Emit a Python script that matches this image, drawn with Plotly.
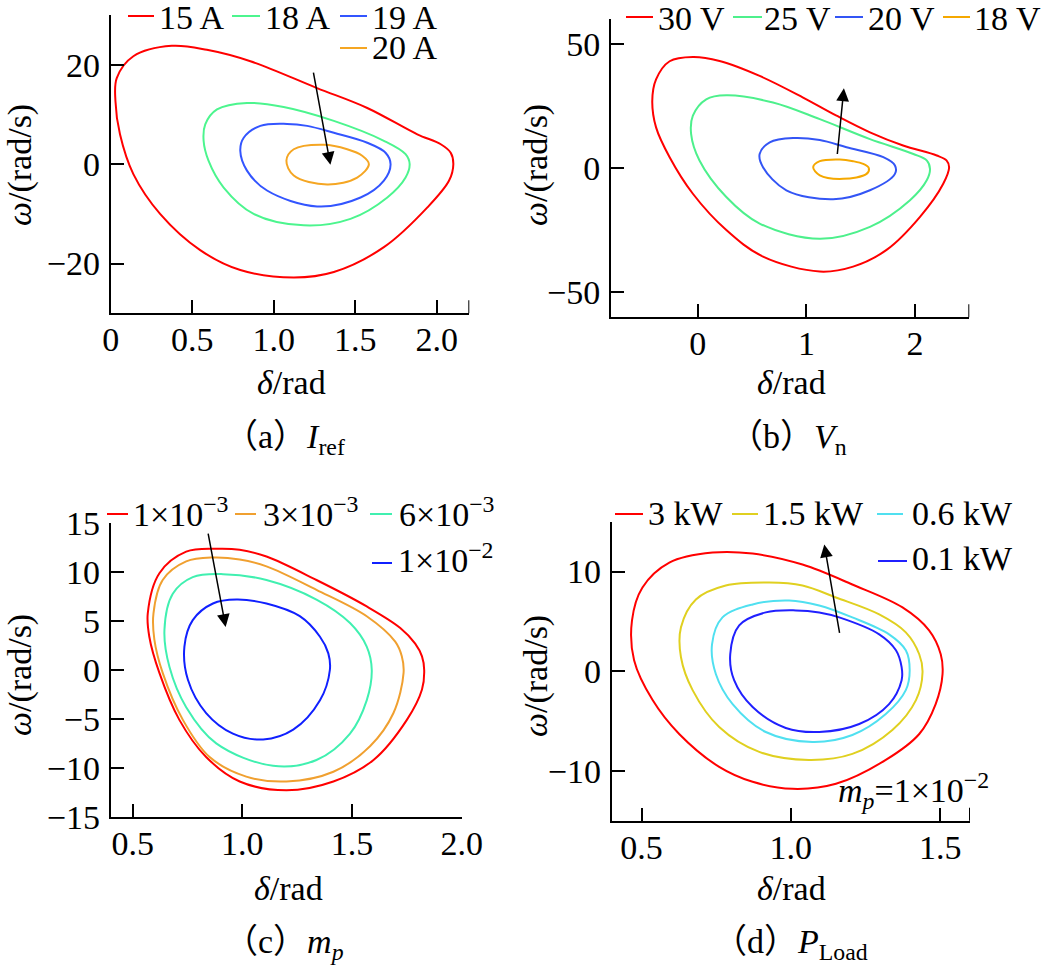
import plotly.graph_objects as go

W, H = 1041, 966
FONT = "Liberation Serif, Times New Roman, serif"
FS = 34

# ---------------- (a) I_ref ----------------
iref_labels = ["15 A", "18 A", "19 A", "20 A"]
iref_xticks = [0, 0.5, 1.0, 1.5, 2.0]
iref_xticktext = ["0", "0.5", "1.0", "1.5", "2.0"]
iref_yticks = [-20, 0, 20]
iref_15_delta = [0.375, 0.59, 0.857, 1.266, 1.574, 1.881, 2.025, 2.086, 2.102, 2.076, 1.943, 1.676, 1.369, 1.123, 0.795, 0.549, 0.303, 0.139, 0.057, 0.029, 0.037, 0.139]
iref_15_omega = [23.8, 23.0, 20.7, 15.3, 11.3, 6.0, 4.0, 2.3, 0.0, -3.3, -8.7, -16.7, -21.7, -22.8, -21.3, -17.3, -10.0, -2.0, 6.0, 12.7, 17.3, 21.7]
iref_18_delta = [0.836, 1.061, 1.369, 1.676, 1.809, 1.834, 1.809, 1.697, 1.471, 1.184, 0.877, 0.693, 0.6, 0.57, 0.58, 0.652]
iref_18_omega = [12.3, 11.5, 8.7, 4.7, 2.0, 0.0, -2.7, -6.7, -11.0, -12.3, -10.0, -4.7, 0.7, 4.7, 8.0, 11.0]
iref_19_delta = [1.082, 1.205, 1.369, 1.574, 1.686, 1.717, 1.676, 1.533, 1.266, 0.959, 0.836, 0.795, 0.816, 0.918]
iref_19_omega = [8.1, 7.7, 6.3, 4.3, 2.3, 0.0, -3.3, -6.7, -8.5, -5.3, -1.3, 2.7, 5.3, 7.7]
iref_20_delta = [1.307, 1.451, 1.543, 1.584, 1.512, 1.328, 1.123, 1.078, 1.123]
iref_20_omega = [3.9, 3.0, 1.7, 0.0, -2.7, -4.1, -2.3, 0.7, 3.0]
iref_arrow = [1.242, 18.7, 1.348, -0.13]  # tail x, tail y, tip x, tip y

# ---------------- (b) V_n ----------------
vn_labels = ["30 V", "25 V", "20 V", "18 V"]
vn_xticks = [0, 1, 2]
vn_xticktext = ["0", "1", "2"]
vn_yticks = [-50, 0, 50]
vn_30_delta = [-0.046, 0.2, 0.569, 0.969, 1.277, 1.585, 1.89, 2.2, 2.29, 2.314, 2.26, 2.046, 1.738, 1.43, 1.123, 0.6, 0.262, -0.046, -0.26, -0.385, -0.42, -0.385, -0.26]
vn_30_omega = [44.7, 43.1, 37.1, 28.4, 21.1, 14.4, 9.1, 5.1, 3.1, 0.4, -6.3, -19.6, -32.9, -39.6, -41.6, -35.6, -24.9, -10.3, 4.4, 16.4, 27.0, 35.7, 43.0]
vn_25_delta = [0.262, 0.692, 1.123, 1.585, 1.985, 2.108, 2.138, 2.108, 1.954, 1.585, 1.123, 0.569, 0.262, 0.015, -0.062, -0.046, 0.077]
vn_25_omega = [29.3, 26.4, 19.7, 11.7, 5.7, 3.1, -0.3, -4.9, -12.9, -23.6, -28.4, -22.3, -11.6, 3.1, 13.7, 21.1, 27.7]
vn_20_delta = [0.877, 1.123, 1.369, 1.708, 1.815, 1.815, 1.585, 1.246, 0.815, 0.6, 0.569, 0.662]
vn_20_omega = [12.1, 11.3, 8.4, 4.4, 1.1, -2.3, -8.9, -12.5, -8.9, 0.4, 5.7, 10.4]
vn_18_delta = [1.308, 1.43, 1.523, 1.575, 1.554, 1.338, 1.123, 1.062, 1.123]
vn_18_omega = [3.5, 2.8, 1.7, 0.0, -2.3, -4.3, -2.9, 0.4, 2.8]
vn_arrow = [1.283, 5.1, 1.345, 32.1]

# ---------------- (c) m_p ----------------
mp_labels = ["1×10<sup>−3</sup>", "3×10<sup>−3</sup>", "6×10<sup>−3</sup>", "1×10<sup>−2</sup>"]
mp_xticks = [0.5, 1.0, 1.5, 2.0]
mp_xticktext = ["0.5", "1.0", "1.5", "2.0"]
mp_yticks = [-15, -10, -5, 0, 5, 10, 15]
mp_1e3_delta = [0.881, 0.988, 1.11, 1.338, 1.567, 1.72, 1.788, 1.819, 1.829, 1.819, 1.75, 1.598, 1.415, 1.201, 0.988, 0.835, 0.713, 0.622, 0.576, 0.569, 0.622, 0.744]
mp_1e3_omega = [12.4, 12.3, 11.6, 9.2, 6.5, 4.3, 2.7, 1.4, 0.0, -2.0, -5.1, -9.2, -11.4, -12.3, -11.4, -8.9, -5.1, -0.3, 3.4, 5.8, 9.9, 12.1]
mp_3e3_delta = [0.866, 0.988, 1.11, 1.338, 1.567, 1.697, 1.727, 1.735, 1.689, 1.582, 1.415, 1.201, 1.018, 0.851, 0.729, 0.637, 0.599, 0.595, 0.637, 0.744]
mp_3e3_omega = [11.5, 11.3, 10.6, 8.2, 5.5, 2.9, 1.4, -0.3, -4.4, -7.8, -10.4, -11.4, -10.9, -8.9, -5.1, -0.3, 3.1, 5.8, 9.2, 11.1]
mp_6e3_delta = [0.912, 1.11, 1.338, 1.491, 1.567, 1.59, 1.567, 1.491, 1.338, 1.14, 0.881, 0.744, 0.668, 0.645, 0.683, 0.774]
mp_6e3_omega = [9.8, 9.2, 7.2, 4.8, 2.4, 0.0, -3.1, -6.5, -9.2, -9.8, -7.5, -3.8, 0.3, 4.1, 7.8, 9.5]
mp_1e2_delta = [0.973, 1.11, 1.262, 1.354, 1.392, 1.399, 1.354, 1.232, 1.095, 0.957, 0.835, 0.752, 0.736, 0.774, 0.866]
mp_1e2_omega = [7.2, 6.8, 5.5, 3.4, 1.7, 0.0, -3.1, -6.1, -7.1, -6.5, -4.4, -1.0, 2.4, 5.1, 6.8]
mp_arrow = [0.843, 14.1, 0.924, 4.4]

# ---------------- (d) P_Load ----------------
pl_labels = ["3 kW", "1.5 kW", "0.6 kW", "0.1 kW"]
pl_xticks = [0.5, 1.0, 1.5]
pl_xticktext = ["0.5", "1.0", "1.5"]
pl_yticks = [-10, 0, 10]
pl_3_delta = [0.738, 0.872, 1.039, 1.206, 1.374, 1.463, 1.502, 1.508, 1.485, 1.43, 1.318, 1.151, 1.006, 0.872, 0.76, 0.626, 0.537, 0.475, 0.468, 0.503, 0.593]
pl_3_omega = [11.9, 11.8, 10.7, 8.7, 6.4, 4.1, 1.7, -0.3, -3.3, -6.3, -8.9, -11.3, -11.8, -11.1, -9.6, -6.3, -2.9, 1.1, 5.1, 8.4, 10.9]
pl_15_delta = [0.927, 1.039, 1.151, 1.296, 1.385, 1.43, 1.441, 1.419, 1.34, 1.206, 1.061, 0.894, 0.76, 0.671, 0.632, 0.632, 0.682, 0.782]
pl_15_omega = [8.9, 8.6, 7.4, 5.7, 3.9, 1.7, -0.1, -2.9, -5.9, -8.3, -8.9, -8.1, -5.6, -1.9, 1.4, 4.4, 7.2, 8.6]
pl_06_delta = [0.994, 1.095, 1.206, 1.329, 1.385, 1.398, 1.385, 1.318, 1.206, 1.072, 0.916, 0.805, 0.749, 0.736, 0.771, 0.872]
pl_06_omega = [7.1, 6.6, 5.4, 3.7, 2.1, 0.1, -1.9, -4.3, -6.4, -7.1, -6.1, -3.3, -0.3, 2.7, 5.4, 6.7]
pl_01_delta = [1.017, 1.095, 1.162, 1.296, 1.352, 1.371, 1.371, 1.329, 1.229, 1.095, 0.983, 0.872, 0.81, 0.797, 0.827, 0.916]
pl_01_omega = [6.1, 5.9, 5.4, 3.7, 2.1, 0.4, -0.9, -3.3, -5.3, -6.1, -5.7, -3.6, -0.9, 1.7, 4.6, 5.9]
pl_arrow = [1.164, 3.7, 1.112, 12.7]
pl_note = "<i>m</i><sub><i>p</i></sub>=1×10<sup>−2</sup>"

# ---------------- layout helpers ----------------
def px(x):
    return x / W

def py(y):
    return 1 - y / H

def cap(letter, tail):
    cj = '<span style="font-family:Noto Sans CJK SC">'
    return cj + "（</span>" + letter + cj + "）</span>" + tail

panels = [
    dict(ax="", xr=[0, 2.2], yr=[-30, 30], xd=(110.7, 469.3), yd=(15, 313.3),
         xt=iref_xticks, xtt=iref_xticktext, yt=iref_yticks, endtick=True,
         series=[(iref_15_delta, iref_15_omega), (iref_18_delta, iref_18_omega),
                 (iref_19_delta, iref_19_omega), (iref_20_delta, iref_20_omega)],
         colors=["#FF0000", "#4CF58E", "#3355FF", "#F5A623"],
         labels=iref_labels, arrow=iref_arrow,
         leg_lines=[(128, 154, 16), (232, 260, 16), (340, 367, 16), (340, 367, 48)],
         leg_text=[(157, 17), (263, 17), (370, 17), (370, 48)],
         xtitle=(291, 383), ytitle=(20, 165),
         caption=cap("a", "<i>I</i><sub>ref</sub>"), cap=(284, 434)),
    dict(ax="2", xr=[-0.8, 2.5], yr=[-60, 60], xd=(611, 969.3), yd=(19, 317.3),
         xt=vn_xticks, xtt=vn_xticktext, yt=vn_yticks, endtick=True,
         series=[(vn_30_delta, vn_30_omega), (vn_25_delta, vn_25_omega),
                 (vn_20_delta, vn_20_omega), (vn_18_delta, vn_18_omega)],
         colors=["#FF0000", "#4DF08C", "#3355F5", "#F5A800"],
         labels=vn_labels, arrow=vn_arrow,
         leg_lines=[(626, 653, 17), (733, 762, 17), (835, 863, 17), (943, 970, 17)],
         leg_text=[(656, 18), (762, 18), (866, 18), (972, 18)],
         xtitle=(791, 383), ytitle=(536, 165),
         caption=cap("b", "<i>V</i><sub>n</sub>"), cap=(788, 434)),
    dict(ax="3", xr=[0.4, 2.0], yr=[-15, 15], xd=(110.7, 461.7), yd=(523.3, 816.7),
         xt=mp_xticks, xtt=mp_xticktext, yt=mp_yticks, endtick=False,
         series=[(mp_1e3_delta, mp_1e3_omega), (mp_3e3_delta, mp_3e3_omega),
                 (mp_6e3_delta, mp_6e3_omega), (mp_1e2_delta, mp_1e2_omega)],
         colors=["#FF0000", "#F0A030", "#40F0B0", "#1020FF"],
         labels=mp_labels, arrow=mp_arrow,
         leg_lines=[(107, 128, 514), (235, 256, 514), (370, 392, 514), (372, 392, 563)],
         leg_text=[(131, 512), (261, 512), (397, 512), (396, 558)],
         xtitle=(288, 888), ytitle=(20, 675),
         caption=cap("c", "<i>m</i><sub><i>p</i></sub>"), cap=(284, 939)),
    dict(ax="4", xr=[0.4, 1.6], yr=[-15, 15], xd=(611.7, 970), yd=(521.7, 820.7),
         xt=pl_xticks, xtt=pl_xticktext, yt=pl_yticks, endtick=True,
         series=[(pl_3_delta, pl_3_omega), (pl_15_delta, pl_15_omega),
                 (pl_06_delta, pl_06_omega), (pl_01_delta, pl_01_omega)],
         colors=["#FF0000", "#E0D020", "#50E0F0", "#2020FF"],
         labels=pl_labels, arrow=pl_arrow,
         leg_lines=[(615, 643, 514), (732, 758, 514), (877, 903, 514), (878, 907, 561)],
         leg_text=[(646, 513), (761, 513), (910, 513), (910, 558)],
         xtitle=(791, 888), ytitle=(536, 676),
         caption=cap("d", "<i>P</i><sub>Load</sub>"), cap=(790, 939)),
]

fig = go.Figure()
shapes = []
annotations = []
layout = {}

for p in panels:
    xa = "x" + p["ax"]
    ya = "y" + p["ax"]
    for (d, o), c, lab in zip(p["series"], p["colors"], p["labels"]):
        fig.add_trace(go.Scatter(
            x=list(d) + [d[0]], y=list(o) + [o[0]], mode="lines",
            line=dict(color=c, width=2, shape="spline", smoothing=1.0),
            name=lab, showlegend=False, xaxis=xa, yaxis=ya, hoverinfo="skip"))
    axis_common = dict(showline=True, linecolor="black", linewidth=2,
                       ticks="inside", ticklen=13, tickwidth=2, tickcolor="black",
                       showgrid=False, zeroline=False, automargin=False,
                       tickfont=dict(family=FONT, size=FS, color="black"))
    layout["xaxis" + p["ax"]] = dict(axis_common, range=p["xr"],
                                     domain=[px(p["xd"][0]), px(p["xd"][1])],
                                     anchor=ya, tickvals=p["xt"], ticktext=p["xtt"],
                                     ticklabelstandoff=-5)
    layout["yaxis" + p["ax"]] = dict(axis_common, range=p["yr"],
                                     domain=[py(p["yd"][1]), py(p["yd"][0])],
                                     anchor=xa, tickvals=p["yt"],
                                     ticklabelstandoff=2)
    if p["endtick"]:
        shapes.append(dict(type="line", xref=xa, yref=ya + " domain",
                           x0=p["xr"][1], x1=p["xr"][1], y0=0,
                           y1=13 / (p["yd"][1] - p["yd"][0]),
                           line=dict(color="black", width=2)))
    # arrow
    t = p["arrow"]
    annotations.append(dict(x=t[2], y=t[3], ax=t[0], ay=t[1], xref=xa, yref=ya,
                            axref=xa, ayref=ya, showarrow=True, arrowhead=2,
                            arrowsize=1.7, arrowwidth=1.5, arrowcolor="black",
                            standoff=0, text=""))
    # legend
    for (x0, x1, yy), c in zip(p["leg_lines"], p["colors"]):
        shapes.append(dict(type="line", xref="paper", yref="paper",
                           x0=px(x0), x1=px(x1), y0=py(yy), y1=py(yy),
                           line=dict(color=c, width=2)))
    for (xx, yy), lab in zip(p["leg_text"], p["labels"]):
        annotations.append(dict(x=px(xx), y=py(yy), xref="paper", yref="paper",
                                xanchor="left", yanchor="middle", showarrow=False,
                                text=lab, font=dict(family=FONT, size=FS, color="black")))
    # axis titles
    annotations.append(dict(x=px(p["xtitle"][0]), y=py(p["xtitle"][1]), xref="paper",
                            yref="paper", xanchor="center", yanchor="middle",
                            showarrow=False, text="<i>δ</i>/rad",
                            font=dict(family=FONT, size=FS, color="black")))
    annotations.append(dict(x=px(p["ytitle"][0]), y=py(p["ytitle"][1]), xref="paper",
                            yref="paper", xanchor="center", yanchor="middle",
                            showarrow=False, text="<i>ω</i>/(rad/s)", textangle=-90,
                            font=dict(family=FONT, size=FS, color="black")))
    annotations.append(dict(x=px(p["cap"][0]), y=py(p["cap"][1]), xref="paper",
                            yref="paper", xanchor="center", yanchor="middle",
                            showarrow=False, text=p["caption"],
                            font=dict(family=FONT, size=FS, color="black")))

annotations.append(dict(x=px(836), y=py(790), xref="paper", yref="paper",
                        xanchor="left", yanchor="middle", showarrow=False,
                        text=pl_note, font=dict(family=FONT, size=FS, color="black")))

fig.update_layout(width=W, height=H, margin=dict(l=0, r=0, t=0, b=0, autoexpand=False),
                  template="none",
                  paper_bgcolor="white", plot_bgcolor="white",
                  shapes=shapes, annotations=annotations, **layout)
fig.write_html("out.html", config={"displayModeBar": False},
               post_script="document.body.style.margin='0';document.body.style.overflow='hidden';")
